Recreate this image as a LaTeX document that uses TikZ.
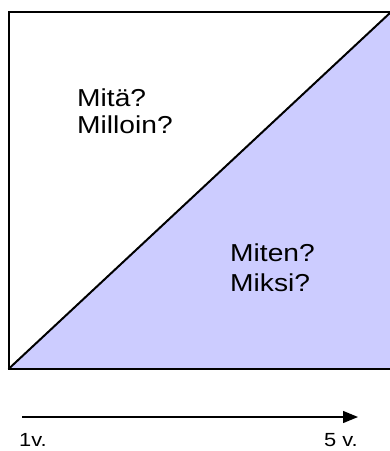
\documentclass[tikz,border=0pt]{standalone}
\usepackage{fontspec}
\setmainfont{Liberation Sans}[FakeStretch=1.15]
\usetikzlibrary{arrows.meta}
\definecolor{lav}{RGB}{204,204,255}
\tikzset{
  big/.style={anchor=base west, inner sep=0pt, font=\fontsize{24.5}{29}\selectfont},
  small/.style={anchor=base west, inner sep=0pt, font=\fontsize{19}{23}\selectfont},
  edge/.style={line width=2pt},
}
\begin{document}
\begin{tikzpicture}[x=1pt,y=-1pt]
\useasboundingbox (0,0) rectangle (390,451);
\coordinate (bl) at (8.5,369);
\coordinate (tr) at (391,12);
\coordinate (tl) at (8.5,12);
\coordinate (br) at (391,369);
\fill[lav] (bl) -- (tr) -- (br) -- cycle;
\draw[edge, line join=miter] (tr) -- (tl) -- (bl) -- (br) -- (tr);
\draw[edge] (bl) -- (tr);
\node[big] (a) at (77,106) {Mitä?};
\node[big] (b) at (77,133) {Milloin?};
\node[big] (c) at (230,261) {Miten?};
\node[big] (d) at (230,291) {Miksi?};
\coordinate (s) at (22,417);
\coordinate (e) at (358,417);
\draw[line width=1.3pt, -{Triangle[length=15pt,width=12pt]}] (s) -- (e);
\node[small] (l1) at (19,446.5) {1v.};
\node[small] (l5) at (324,446.5) {5 v.};
\end{tikzpicture}
\end{document}
